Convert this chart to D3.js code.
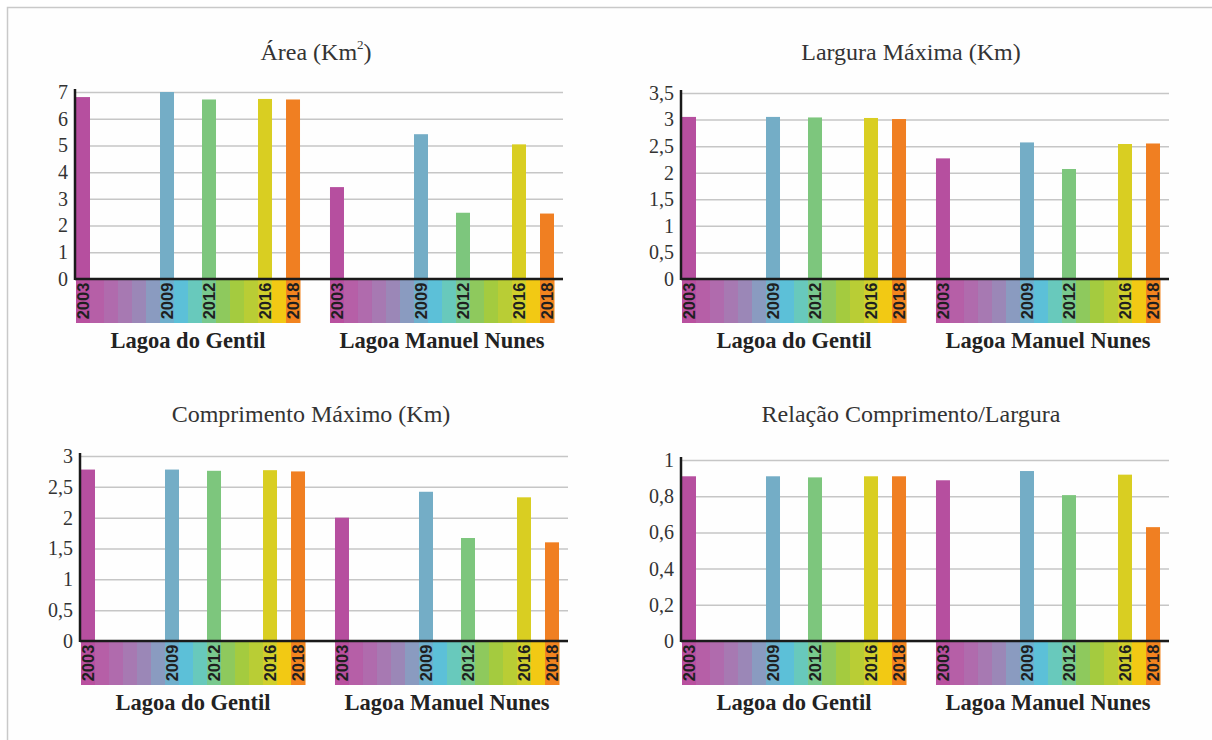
<!DOCTYPE html>
<html><head><meta charset="utf-8">
<script src="https://cdn.jsdelivr.net/npm/d3@7/dist/d3.min.js"></script>
<style>
body{margin:0;background:#fff}svg{display:block}
.serif{font-family:"Liberation Serif","DejaVu Serif","Times New Roman",serif}
.sans{font-family:"Liberation Sans","DejaVu Sans",Arial,sans-serif}
</style>
</head><body>
<svg id="c" width="1212" height="740"></svg>
<script>
// ---- data ----
const groups = ["Lagoa do Gentil", "Lagoa Manuel Nunes"];
const years = [2003, 2009, 2012, 2016, 2018];
const timeline = [2003,2004,2005,2006,2007,2008,2009,2010,2011,2012,2013,2014,2015,2016,2017,2018];
const labelYears = [2003, 2009, 2012, 2016, 2018];

const areaGentil = [6.81, 7.00, 6.72, 6.74, 6.72];
const areaNunes  = [3.44, 5.42, 2.48, 5.04, 2.45];
const larguraGentil = [3.05, 3.05, 3.04, 3.03, 3.01];
const larguraNunes  = [2.27, 2.57, 2.07, 2.54, 2.55];
const comprGentil = [2.78, 2.78, 2.76, 2.77, 2.75];
const comprNunes  = [2.00, 2.42, 1.67, 2.33, 1.60];
const relGentil = [0.910, 0.910, 0.904, 0.910, 0.910];
const relNunes  = [0.888, 0.939, 0.806, 0.919, 0.629];

const areaTicks = [0,1,2,3,4,5,6,7];
const larguraTicks = [0,0.5,1,1.5,2,2.5,3,3.5];
const comprTicks = [0,0.5,1,1.5,2,2.5,3];
const relTicks = [0,0.2,0.4,0.6,0.8,1];

const titles = ["Área (Km", "Largura Máxima (Km)", "Comprimento Máximo (Km)", "Relação Comprimento/Largura"];

// ---- styles ----
const barColors = {2003:"#b64f9f", 2009:"#74adc6", 2012:"#7dc67d", 2016:"#d9ce22", 2018:"#f07f22"};
const stripColors = ["#b9509f","#b65fa7","#b06bad","#a779b2","#9b87b7","#8a9bc0","#6fb0cd","#5cc0d8",
                     "#68c9bc","#79c98e","#8ec95d","#a4cb3f","#b9cd35","#d0cf2c","#f2c914","#f2841f"];

const panels = [
  {title:0, gentil:areaGentil, nunes:areaNunes, ticks:areaTicks, axisX:75, zeroY:279, topY:92, titleX:316, titleY:60},
  {title:1, gentil:larguraGentil, nunes:larguraNunes, ticks:larguraTicks, axisX:681, zeroY:279, topY:93, titleX:911, titleY:60},
  {title:2, gentil:comprGentil, nunes:comprNunes, ticks:comprTicks, axisX:80, zeroY:641, topY:456, titleX:311, titleY:422},
  {title:3, gentil:relGentil, nunes:relNunes, ticks:relTicks, axisX:681, zeroY:641, topY:460, titleX:911, titleY:422}
];

const loc = d3.formatLocale({decimal:",", thousands:".", grouping:[3], currency:["",""]});
const fmt = loc.format("~g");

const svg = d3.select("#c");
svg.append("rect").attr("x",7.5).attr("y",7.5).attr("width",1230).attr("height",760)
  .attr("fill","#fefefe").attr("stroke","#c9c9c9").attr("stroke-width",1.5);

panels.forEach(p => {
  const g = svg.append("g");
  const x0 = p.axisX + 1;
  const gx = d3.scaleBand().domain(groups).range([x0, x0 + 478]).paddingInner(0.118);
  const yx = d3.scaleBand().domain(timeline).range([0, gx.bandwidth()]);
  const right = x0 + 487;
  const maxT = p.ticks[p.ticks.length-1];
  const y = d3.scaleLinear().domain([0, maxT]).range([p.zeroY, p.topY]);

  // title
  const t = g.append("text").attr("class","serif").attr("x", p.titleX).attr("y", p.titleY).attr("text-anchor","middle")
    .style("font-size","24px").attr("fill","#333").text(titles[p.title]);
  if (p.title === 0) {
    t.append("tspan").style("font-size","13px").attr("dy", -11).text("2");
    t.append("tspan").attr("dy", 11).text(")");
  }

  // grid + tick labels
  const ax = g.append("g").attr("transform", `translate(${p.axisX},0)`)
    .call(d3.axisLeft(y).tickValues(p.ticks).tickFormat(fmt).tickSize(-(right - p.axisX)).tickPadding(7));
  ax.attr("font-family", null).attr("font-size", null);
  ax.select(".domain").remove();
  ax.selectAll(".tick line").attr("stroke","#c6c6c6").attr("stroke-width",1.5);
  ax.selectAll(".tick text").attr("class","serif").style("font-size","20px").attr("fill","#333");

  // strips
  groups.forEach(gr => {
    g.selectAll(null).data(timeline).enter().append("rect")
      .attr("x", d => gx(gr) + yx(d)).attr("y", p.zeroY)
      .attr("width", yx.bandwidth() + 0.5).attr("height", 44)
      .attr("fill", (d,i) => stripColors[i]);
    g.selectAll(null).data(labelYears).enter().append("text").attr("class","sans")
      .attr("transform", d => `translate(${gx(gr) + yx(d) + yx.bandwidth()/2 + 6},${p.zeroY + 22}) rotate(-90)`)
      .attr("text-anchor","middle").style("font-weight","bold")
      .style("font-size","16.5px").attr("fill","#1f1f1f").text(d => d);
    g.append("text").attr("class","serif").attr("x", gx(gr) + gx.bandwidth()/2).attr("y", p.zeroY + 69)
      .attr("text-anchor","middle").style("font-weight","bold")
      .style("font-size","22.5px").attr("fill","#222").text(gr);
  });

  // bars
  [[groups[0], p.gentil], [groups[1], p.nunes]].forEach(([gr, vals]) => {
    g.selectAll(null).data(years.map((yr,i) => ({yr, v: vals[i]}))).enter().append("rect")
      .attr("x", d => gx(gr) + yx(d.yr)).attr("width", yx.bandwidth())
      .attr("y", d => y(d.v)).attr("height", d => y(0) - y(d.v))
      .attr("fill", d => barColors[d.yr]);
  });

  // axes lines
  g.append("line").attr("x1", p.axisX).attr("x2", right).attr("y1", p.zeroY).attr("y2", p.zeroY)
    .attr("stroke","#1a1a1a").attr("stroke-width",2.5);
  g.append("line").attr("x1", p.axisX).attr("x2", p.axisX).attr("y1", p.zeroY + 1).attr("y2", p.topY - 3)
    .attr("stroke","#1a1a1a").attr("stroke-width",2.5);
});
</script>
</body></html>
